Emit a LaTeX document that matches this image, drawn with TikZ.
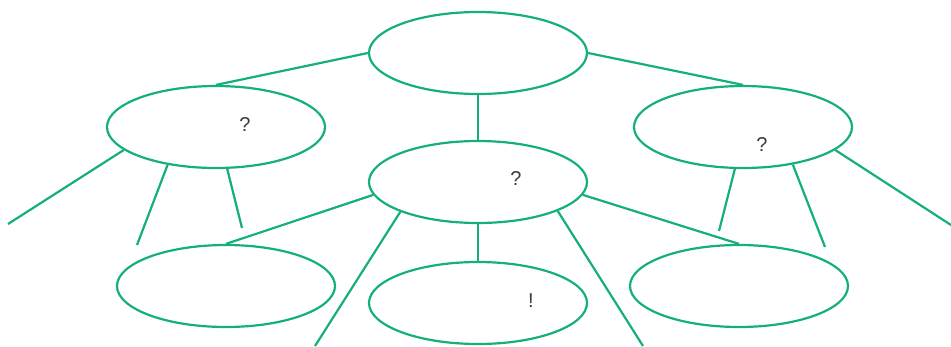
\documentclass[tikz,border=0pt]{standalone}
\usepackage{fontspec}
\setmainfont{Liberation Sans}
\usetikzlibrary{shapes.geometric}
\definecolor{grn}{RGB}{20,176,120}
\definecolor{txt}{RGB}{60,60,60}
\tikzset{
  bubble/.style={ellipse, draw=grn, line width=2.2pt, minimum width=218pt, minimum height=82pt, inner sep=0pt},
  link/.style={draw=grn, line width=2.2pt},
  lbl/.style={text=txt, font=\fontsize{20}{20}\selectfont, inner sep=0pt}
}
\begin{document}
\begin{tikzpicture}[x=1pt,y=-1pt]
\useasboundingbox (0,0) rectangle (951,346);
\node[bubble] (top) at (478,53) {};
\node[bubble] (lm) at (216,127) {};
\node[bubble] (rm) at (743,127) {};
\node[bubble] (c) at (478,182) {};
\node[bubble] (bl) at (226,286) {};
\node[bubble] (bm) at (478,303) {};
\node[bubble] (br) at (739,286) {};
\node[lbl] (q1) at (245,125) {?};
\node[lbl] (q2) at (516,179) {?};
\node[lbl] (q3) at (762,145) {?};
\node[lbl] (ex) at (531,301) {!};
\coordinate (l1) at (8,224);
\coordinate (l2) at (137,245);
\coordinate (l3) at (242,228);
\coordinate (r1) at (719,231);
\coordinate (r2) at (825,247);
\coordinate (r3) at (951,225);
\coordinate (c1) at (315,346);
\coordinate (c2) at (643,346);
\draw[link] (top.west) -- (lm.north);
\draw[link] (top.east) -- (rm.north);
\draw[link] (top.south) -- (c.north);
\draw[link] (lm.194) -- (l1);
\draw[link] (lm.218) -- (l2);
\draw[link] (lm.285) -- (l3);
\draw[link] (rm.259) -- (r1);
\draw[link] (rm.323) -- (r2);
\draw[link] (rm.346) -- (r3);
\draw[link] (c.187) -- (bl.north);
\draw[link] (c.201) -- (c1);
\draw[link] (c.south) -- (bm.north);
\draw[link] (c.340) -- (c2);
\draw[link] (c.353) -- (br.north);
\end{tikzpicture}
\end{document}
